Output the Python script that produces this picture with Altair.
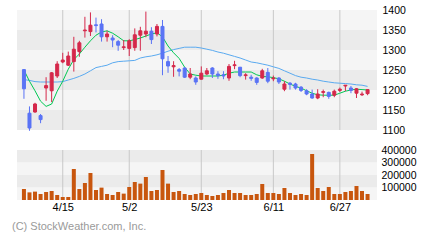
import altair as alt
import pandas as pd

# ---------------- data ----------------
opens = [1251, 1142, 1145, 1136, 1205, 1198, 1235, 1270, 1262, 1271,
         1296, 1348, 1346, 1363, 1365, 1333, 1330, 1321, 1306, 1304,
         1306, 1337, 1340, 1347, 1340, 1359, 1271, 1258, 1251, 1255,
         1232, 1230, 1227, 1240, 1255, 1240, 1238, 1230, 1261, 1257,
         1236, 1232, 1230, 1230, 1244, 1228, 1230, 1202, 1217, 1215,
         1207, 1198, 1190, 1180, 1194, 1194, 1187, 1199, 1210, 1205,
         1192, 1188, 1191]
highs = [1252, 1159, 1168, 1140, 1232, 1245, 1272, 1293, 1296, 1333,
         1323, 1383, 1394, 1381, 1377, 1348, 1337, 1325, 1325, 1327,
         1354, 1358, 1396, 1357, 1365, 1375, 1285, 1272, 1255, 1257,
         1255, 1234, 1259, 1255, 1257, 1247, 1247, 1265, 1273, 1257,
         1242, 1238, 1232, 1253, 1255, 1236, 1232, 1222, 1220, 1218,
         1210, 1202, 1201, 1202, 1201, 1196, 1201, 1206, 1212, 1210,
         1205, 1196, 1201]
lows = [1178, 1098, 1143, 1117, 1173, 1170, 1230, 1267, 1260, 1246,
        1283, 1331, 1335, 1344, 1321, 1321, 1307, 1298, 1300, 1285,
        1298, 1298, 1332, 1315, 1334, 1237, 1243, 1233, 1234, 1230,
        1227, 1213, 1226, 1237, 1230, 1228, 1227, 1223, 1252, 1232,
        1226, 1223, 1213, 1228, 1217, 1222, 1215, 1197, 1201, 1201,
        1195, 1187, 1178, 1177, 1182, 1178, 1182, 1195, 1197, 1192,
        1180, 1185, 1187]
closes = [1203, 1105, 1165, 1126, 1211, 1243, 1265, 1275, 1285, 1302,
          1318, 1350, 1362, 1361, 1333, 1340, 1325, 1312, 1308, 1323,
          1338, 1348, 1347, 1326, 1359, 1278, 1260, 1261, 1247, 1232,
          1240, 1220, 1242, 1248, 1240, 1236, 1235, 1259, 1263, 1236,
          1238, 1229, 1219, 1248, 1222, 1230, 1220, 1215, 1214, 1205,
          1199, 1190, 1180, 1190, 1196, 1184, 1197, 1202, 1212, 1199,
          1203, 1190, 1201]
ma_short = [1250, 1222, 1198, 1172, 1159, 1165, 1197, 1222, 1252, 1276,
            1290, 1307, 1323, 1337, 1345, 1348, 1342, 1333, 1323, 1323,
            1326, 1330, 1335, 1340, 1343, 1333, 1310, 1293, 1279, 1257,
            1240, 1237, 1235, 1235, 1235, 1235, 1237, 1242, 1245, 1245,
            1245, 1245, 1238, 1234, 1233, 1231, 1228, 1222, 1215, 1209,
            1205, 1198, 1192, 1188, 1187, 1187, 1187, 1192, 1197, 1200,
            1202, 1201, 1200]
ma_long = [1226, 1224, 1221, 1220, 1220, 1220, 1220, 1221, 1225, 1229,
           1234, 1240, 1248, 1256, 1259, 1262, 1268, 1271, 1272, 1273,
           1274, 1280, 1283, 1285, 1288, 1292, 1297, 1301, 1304, 1307,
           1307, 1307, 1305, 1302, 1299, 1295, 1292, 1288, 1284, 1280,
           1275, 1270, 1268, 1265, 1262, 1258, 1254, 1248, 1242, 1236,
           1232, 1230, 1227, 1225, 1222, 1220, 1218, 1217, 1216, 1215,
           1213, 1212, 1209]
volumes = [88000, 61000, 67000, 48000, 64000, 72000, 40000, 24000, 24000, 248000,
           88000, 136000, 216000, 80000, 99000, 48000, 40000, 64000, 51000, 104000,
           144000, 131000, 184000, 72000, 80000, 240000, 131000, 64000, 72000, 48000,
           40000, 48000, 56000, 40000, 32000, 40000, 56000, 80000, 56000, 56000,
           40000, 40000, 48000, 128000, 56000, 56000, 48000, 96000, 56000, 40000,
           48000, 40000, 368000, 96000, 72000, 104000, 48000, 48000, 64000, 72000,
           112000, 72000, 48000]
tick_idx = [7, 19, 32, 45, 57]
tick_labels = ["4/15", "5/2", "5/23", "6/11", "6/27"]
price_ticks = [1100, 1150, 1200, 1250, 1300, 1350, 1400]
vol_ticks = [100000, 200000, 300000, 400000]
copyright_text = ["(C) StockWeather.com, Inc."]

# ---------------- styles ----------------
FONT = "Liberation Sans"
RED = "#d5284b"
BLUE = "#5a73f5"
GREEN = "#00c853"
MA_BLUE = "#5aaaf0"
VOL = "#c8560e"
LIGHT = "#f5f5f5"
DARK = "#ebebeb"
GRID = "#c8c8c8"

n = len(closes)
df = pd.DataFrame({
    "i": list(range(n)), "o": opens, "h": highs, "l": lows, "c": closes,
    "ma5": ma_short, "ma20": ma_long, "v": volumes,
})
df["dir"] = ["up" if c >= o else "down" for o, c in zip(opens, closes)]

grid_df = pd.DataFrame({"gi": tick_idx, "lab": tick_labels})

pb_lo = price_ticks[:-1]
pb_hi = price_ticks[1:]
price_bands = pd.DataFrame({
    "y0": pb_lo, "y1": pb_hi,
    "col": [DARK if k % 2 == 0 else LIGHT for k in range(len(pb_lo))],
})
vb_lo = [0] + vol_ticks[:-1]
vb_hi = vol_ticks
vol_bands = pd.DataFrame({
    "y0": vb_lo, "y1": vb_hi,
    "col": [LIGHT if k % 2 == 0 else DARK for k in range(len(vb_lo))],
})

xscale = alt.Scale(domain=[-0.35, n - 0.2], nice=False, zero=False)
pscale = alt.Scale(domain=[price_ticks[0], price_ticks[-1]], nice=False, zero=False)
vscale = alt.Scale(domain=[0, vol_ticks[-1]], nice=False)

paxis = alt.Axis(orient="right", values=price_ticks, format="d", grid=False,
                 ticks=False, tickSize=0, domain=False, labelPadding=5,
                 labelFont=FONT, labelFontSize=10.5, labelColor="#000", title=None)
vaxis = alt.Axis(orient="right", values=vol_ticks, format="d", grid=False,
                 ticks=False, tickSize=0, domain=False, labelPadding=4,
                 labelFont=FONT, labelFontSize=10.5, labelColor="#000", title=None)

expr = "''"
for k, lab in reversed(list(zip(tick_idx, tick_labels))):
    expr = f"datum.value == {k} ? '{lab}' : ({expr})"
xaxis_v = alt.Axis(values=tick_idx, labelExpr=expr, grid=False, ticks=False,
                   tickSize=0, domain=False, labelPadding=1, labelFont=FONT,
                   labelFontSize=11, labelColor="#000", title=None, labelBaseline="top")

color = alt.Color("dir:N", scale=alt.Scale(domain=["up", "down"], range=[RED, BLUE]),
                  legend=None)

# ---------------- price panel ----------------
p_bands = alt.Chart(price_bands).mark_rect().encode(
    x=alt.value(0), x2=alt.value("width"),
    y=alt.Y("y0:Q", scale=pscale, axis=paxis), y2="y1:Q",
    color=alt.Color("col:N", scale=None),
)
p_grid = alt.Chart(grid_df).mark_rule(color=GRID, strokeWidth=1).encode(
    x=alt.X("gi:Q", scale=xscale, axis=None),
    y=alt.value(0), y2=alt.value("height"),
)
p_ma20 = alt.Chart(df).mark_line(color=MA_BLUE, strokeWidth=1).encode(
    x=alt.X("i:Q", scale=xscale, axis=None),
    y=alt.Y("ma20:Q", scale=pscale, axis=paxis),
)
p_ma5 = alt.Chart(df).mark_line(color=GREEN, strokeWidth=1).encode(
    x=alt.X("i:Q", scale=xscale, axis=None),
    y=alt.Y("ma5:Q", scale=pscale, axis=paxis),
)
p_wick = alt.Chart(df).mark_rule(strokeWidth=1).encode(
    x=alt.X("i:Q", scale=xscale, axis=None),
    y=alt.Y("l:Q", scale=pscale, axis=paxis), y2="h:Q",
    color=color,
)
p_body = alt.Chart(df).mark_bar(size=3, strokeWidth=1).encode(
    x=alt.X("i:Q", scale=xscale, axis=None),
    y=alt.Y("o:Q", scale=pscale, axis=paxis), y2="c:Q",
    color=color,
    stroke=alt.Stroke("dir:N", scale=alt.Scale(domain=["up", "down"], range=[RED, BLUE]),
                      legend=None),
)
price = alt.layer(p_bands, p_grid, p_ma20, p_ma5, p_wick, p_body).properties(
    width=360, height=120)

# ---------------- volume panel ----------------
v_bands = alt.Chart(vol_bands).mark_rect().encode(
    x=alt.value(0), x2=alt.value("width"),
    y=alt.Y("y0:Q", scale=vscale, axis=vaxis), y2="y1:Q",
    color=alt.Color("col:N", scale=None),
)
v_grid = alt.Chart(grid_df).mark_rule(color=GRID, strokeWidth=1).encode(
    x=alt.X("gi:Q", scale=xscale, axis=xaxis_v),
    y=alt.value(0), y2=alt.value("height"),
)
v_bars = alt.Chart(df).mark_bar(size=4, color=VOL).encode(
    x=alt.X("i:Q", scale=xscale, axis=xaxis_v),
    y=alt.Y("v:Q", scale=vscale, axis=vaxis),
)
v_text = alt.Chart(pd.DataFrame({"t": copyright_text})).mark_text(
    align="left", baseline="alphabetic", font=FONT, fontSize=11, color="#9a9a9a",
).encode(x=alt.value(-5), y=alt.value(79.5), text="t:N")
volume = alt.layer(v_bands, v_grid, v_bars, v_text).properties(width=360, height=50)

chart = alt.vconcat(price, volume, spacing=20, bounds="flush").properties(
    padding={"left": 12, "top": 5, "right": 0, "bottom": 0},
    background="white",
).configure_view(stroke=None)

chart.save("out.html", embed_options={"renderer": "svg", "actions": False})
